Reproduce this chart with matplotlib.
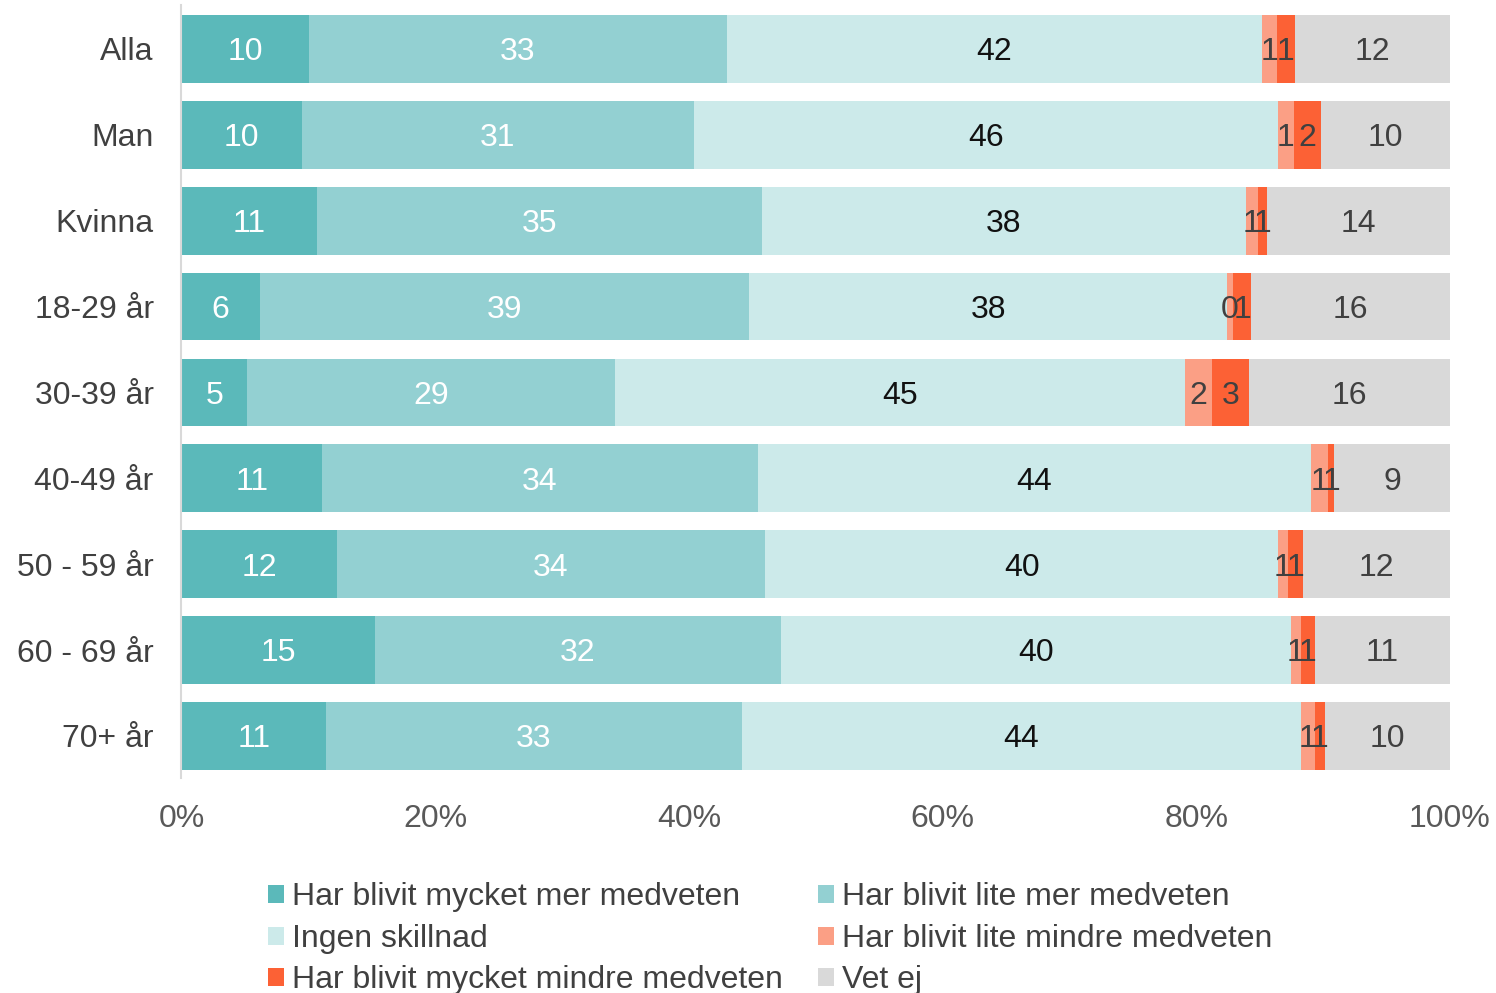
import matplotlib
matplotlib.use("Agg")
import matplotlib.pyplot as plt
from matplotlib.patches import Patch

plt.rcParams['font.family'] = ['Liberation Sans', 'DejaVu Sans']

categories = ["Alla", "Man", "Kvinna", "18-29 år", "30-39 år", "40-49 år",
              "50 - 59 år", "60 - 69 år", "70+ år"]
series_names = ["Har blivit mycket mer medveten", "Har blivit lite mer medveten",
                "Ingen skillnad", "Har blivit lite mindre medveten",
                "Har blivit mycket mindre medveten", "Vet ej"]

mycket_mer = [10.05, 9.5, 10.68, 6.19, 5.16, 11.08, 12.26, 15.25, 11.39]
lite_mer = [32.95, 30.9, 35.08, 38.55, 29.01, 34.37, 33.74, 32.01, 32.80]
ingen = [42.18, 46.02, 38.13, 37.70, 44.94, 43.59, 40.46, 40.18, 44.06]
lite_mindre = [1.18, 1.28, 1.00, 0.45, 2.13, 1.34, 0.75, 0.81, 1.11]
mycket_mindre = [1.42, 2.11, 0.71, 1.45, 2.91, 0.50, 1.18, 1.11, 0.79]
vet_ej = [12.22, 10.19, 14.40, 15.66, 15.85, 9.17, 11.61, 10.64, 9.85]

series = [mycket_mer, lite_mer, ingen, lite_mindre, mycket_mindre, vet_ej]
colors = ["#5BB9BA", "#93D0D2", "#CCEAEA", "#FB9F85", "#FC6135", "#D9D9D9"]
label_colors = ["white", "white", "#111111", "#404040", "#404040", "#404040"]
xticks = [0, 20, 40, 60, 80, 100]

FS = 23

fig = plt.figure(figsize=(14.96, 9.93), dpi=100)
ax = fig.add_axes([0.1213, 0.2165, 0.8479, 0.7785])

y = list(range(len(categories)))
left = [0.0] * len(categories)
for vals, col, lc in zip(series, colors, label_colors):
    ax.barh(y, vals, left=left, height=0.79, color=col, edgecolor='none')
    for i, v in enumerate(vals):
        ax.text(left[i] + v / 2, i + 0.04, str(int(v + 0.5)), ha='center', va='center',
                fontsize=FS, color=lc)
    left = [l + v for l, v in zip(left, vals)]

ax.set_xlim(0, 100)
ax.set_ylim(8.49, -0.512)
ax.set_yticks(y)
ax.set_yticklabels(categories, fontsize=FS, color="#404040")
ax.set_xticks(xticks)
ax.set_xticklabels([f"{t}%" for t in xticks], fontsize=FS, color="#595959")
ax.tick_params(axis='both', length=0)
ax.tick_params(axis='y', pad=20)
ax.tick_params(axis='x', pad=19)
for s in ['top', 'right', 'bottom']:
    ax.spines[s].set_visible(False)
ax.spines['left'].set_color("#D9D9D9")
ax.spines['left'].set_linewidth(1.5)

handles = [Patch(facecolor=c, edgecolor='none') for c in colors]
order = [0, 2, 4, 1, 3, 5]
fig.legend([handles[i] for i in order], [series_names[i] for i in order],
           loc='center', bbox_to_anchor=(0.515, 0.0544), ncol=2, frameon=False,
           fontsize=FS, handlelength=0.5, handleheight=0.5, handletextpad=0.25,
           columnspacing=1.1, labelspacing=0.36, labelcolor="#404040")

fig.savefig("out.png", dpi=100)
